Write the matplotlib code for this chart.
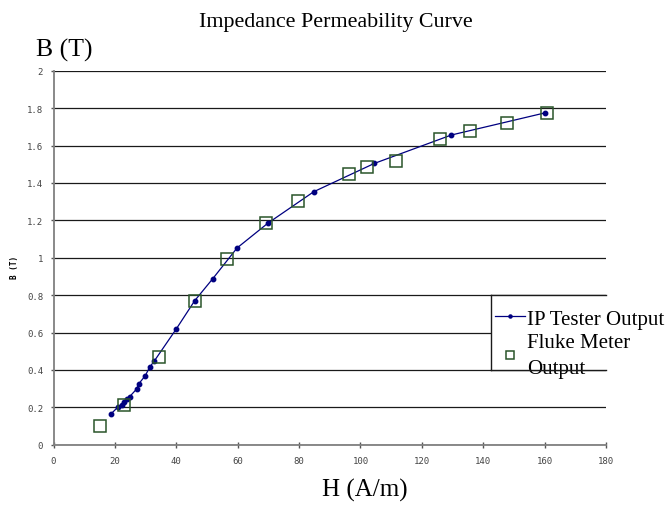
import matplotlib
matplotlib.use("Agg")
import matplotlib.pyplot as plt
from matplotlib.patches import Rectangle
from matplotlib.lines import Line2D

# IP Tester output (H in A/m, B in T)
ip_h = [18.7, 20.9, 22.2, 22.9, 23.8, 24.8, 27.1, 27.7, 29.9, 31.3, 32.9,
        40.0, 46.0, 51.9, 59.8, 69.8, 84.8, 104.5, 129.6, 160.0]
ip_b = [0.164, 0.200, 0.214, 0.226, 0.244, 0.257, 0.298, 0.324, 0.369, 0.414, 0.449,
        0.619, 0.770, 0.888, 1.052, 1.184, 1.353, 1.504, 1.656, 1.774]

# Fluke meter output
fl_h = [15.1, 23.0, 34.5, 46.0, 56.6, 69.1, 79.7, 96.3, 102.1, 111.7,
        126.0, 135.6, 147.9, 160.8]
fl_b = [0.102, 0.212, 0.467, 0.770, 0.993, 1.184, 1.301, 1.445, 1.487, 1.517,
        1.635, 1.676, 1.720, 1.772]

x_ticks = [0, 20, 40, 60, 80, 100, 120, 140, 160, 180]
y_ticks = [0, 0.2, 0.4, 0.6, 0.8, 1.0, 1.2, 1.4, 1.6, 1.8, 2.0]
y_labels = ["0", "0.2", "0.4", "0.6", "0.8", "1", "1.2", "1.4", "1.6", "1.8", "2"]

W, H = 672, 506
fig = plt.figure(figsize=(W / 100, H / 100), dpi=100)
L, R, T, B = 53.5, 606, 71.7, 445.7
ax = fig.add_axes([L / W, 1 - B / H, (R - L) / W, (B - T) / H])

serif = "Liberation Serif"
mono = "DejaVu Sans Mono"

ax.set_xlim(0, 180)
ax.set_ylim(0, 2)
ax.set_xticks(x_ticks)
ax.set_xticklabels([str(v) for v in x_ticks], family=mono, fontsize=6.5, color="#444444")
ax.set_yticks(y_ticks)
ax.set_yticklabels(y_labels, family=mono, fontsize=6.5, color="#444444")
ax.tick_params(axis="x", direction="inout", length=4, width=1, color="#555555", pad=6)
ax.tick_params(axis="y", direction="out", length=2.5, width=1, color="#555555", pad=5)

for s in ["top", "right"]:
    ax.spines[s].set_visible(False)
for s in ["left", "bottom"]:
    ax.spines[s].set_color("#808080")
    ax.spines[s].set_linewidth(1.3)

ax.yaxis.grid(True, color="#1a1a1a", linewidth=0.9)
ax.set_axisbelow(True)

ax.plot(ip_h, ip_b, color="#000080", linewidth=0.9, marker="o", markersize=3.2,
        markerfacecolor="#000080", markeredgecolor="#000080", zorder=3,
        label="IP Tester Output")
ax.plot(fl_h, fl_b, linestyle="none", marker="s", markersize=9,
        markerfacecolor="none", markeredgecolor="#2a552a", markeredgewidth=1.1,
        zorder=3, label="Fluke Meter\nOutput")

# Legend box (white, partially framed, overflowing the chart)
lx, ly0, ly1 = 491, 296, 370.5
ax.add_patch(Rectangle((lx / W, 1 - ly1 / H), (W - lx) / W, (ly1 - ly0) / H,
                       transform=fig.transFigure, facecolor="white", edgecolor="none",
                       clip_on=False, zorder=4))
ax.add_line(Line2D([lx / W, lx / W], [1 - ly0 / H, 1 - ly1 / H], transform=fig.transFigure,
                   color="#1a1a1a", linewidth=1, clip_on=False, zorder=4.5))
ax.add_line(Line2D([lx / W, R / W], [1 - ly0 / H, 1 - ly0 / H], transform=fig.transFigure,
                   color="#1a1a1a", linewidth=1, clip_on=False, zorder=4.5))
ax.add_line(Line2D([lx / W, R / W], [1 - ly1 / H, 1 - ly1 / H], transform=fig.transFigure,
                   color="#1a1a1a", linewidth=1, clip_on=False, zorder=6))

leg = ax.legend(loc="upper left", bbox_to_anchor=(495 / W, 1 - 310 / H),
                bbox_transform=fig.transFigure, frameon=False,
                prop={"family": serif, "size": 15}, handlelength=1.45,
                handletextpad=0.1, labelspacing=0.2, borderpad=0, borderaxespad=0,
                markerscale=0.7)
for t in leg.get_texts():
    t.set_linespacing(1.5)
leg.set_zorder(5)

fig.text(336 / W, 1 - 23 / H, "Impedance Permeability Curve", family=serif, fontsize=15.8,
         ha="center", va="center")
fig.text(36 / W, 1 - 57 / H, "B (T)", family=serif, fontsize=18.5, ha="left", va="baseline")
fig.text(365 / W, 1 - 490 / H, "H (A/m)", family=serif, fontsize=18, ha="center", va="center")
fig.text(15 / W, 1 - 267 / H, "B (T)", family=mono, fontsize=5.5, fontweight="bold",
         rotation=90, ha="center", va="center")

fig.savefig("out.png", dpi=100)
